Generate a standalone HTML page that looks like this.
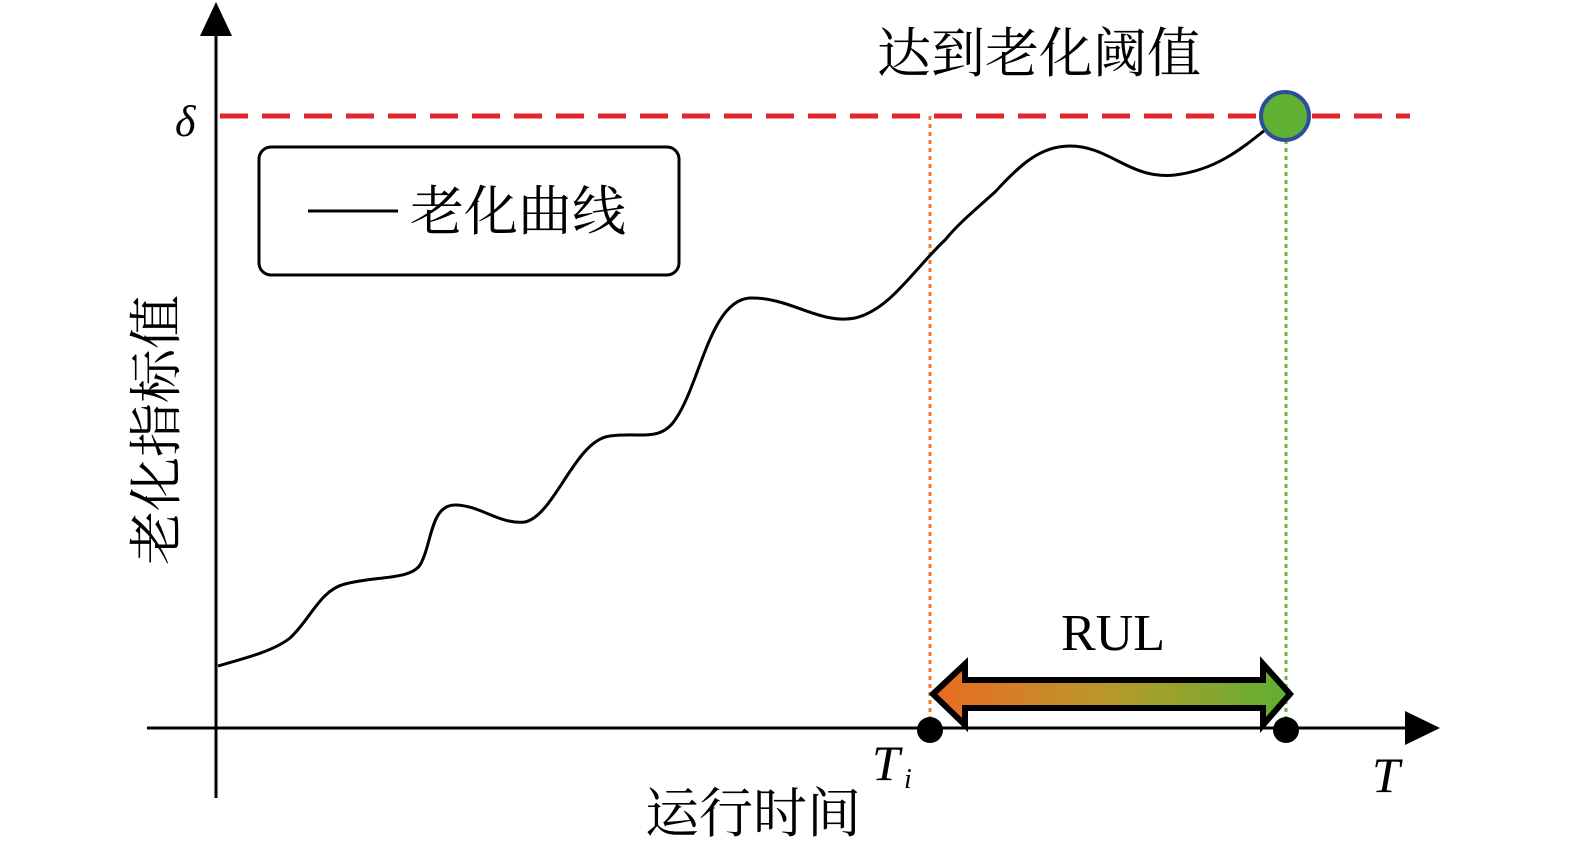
<!DOCTYPE html>
<html><head><meta charset="utf-8"><style>
html,body{margin:0;padding:0;background:#fff;}
svg{display:block;}
text{font-family:"Liberation Serif","Noto Serif CJK SC",serif;}
.cjk{font-family:"Liberation Serif","Noto Serif CJK SC",serif;}
</style></head><body>
<svg width="1575" height="846" viewBox="0 0 1575 846" xmlns="http://www.w3.org/2000/svg">
<defs>
<linearGradient id="g" x1="0" x2="1" y1="0" y2="0">
<stop offset="0" stop-color="#ec6a23"/>
<stop offset="0.5" stop-color="#b79a2a"/>
<stop offset="1" stop-color="#5fb033"/>
</linearGradient>
</defs>
<line x1="216" y1="30" x2="216" y2="798" stroke="#000" stroke-width="3"/>
<polygon points="216,2 200,36 232,36" fill="#000"/>
<line x1="147" y1="728" x2="1410" y2="728" stroke="#000" stroke-width="3"/>
<polygon points="1440,728 1405,711 1405,745" fill="#000"/>
<line x1="220" y1="116" x2="1410" y2="116" stroke="#e2252b" stroke-width="5" stroke-dasharray="28,14"/>
<text x="175" y="136" font-size="44" font-style="italic">δ</text>
<line x1="930" y1="116" x2="930" y2="728" stroke="#ec7b30" stroke-width="3" stroke-dasharray="4,4"/>
<line x1="1286" y1="116" x2="1286" y2="728" stroke="#6ab23e" stroke-width="3" stroke-dasharray="4,4"/>
<path d="M218,666 C250,657 275,650 290,638 C310,620 320,590 345,584 C375,576 410,580 420,565 C432,545 430,505 455,505 C480,505 500,525 525,522 C555,515 575,440 610,436 C640,432 660,442 675,420 C700,385 710,300 750,298 C790,297 820,325 855,318 C890,310 915,268 945,240 C960,222 975,210 995,192 C1020,165 1040,146 1070,146 C1110,146 1130,180 1175,175 C1215,170 1240,150 1265,130" fill="none" stroke="#000" stroke-width="3"/>
<circle cx="1285" cy="116" r="24" fill="#5fb033" stroke="#2d4e9a" stroke-width="4"/>
<circle cx="930" cy="730" r="13" fill="#000"/>
<circle cx="1286" cy="730" r="13" fill="#000"/>
<polygon points="933,694 965,664 965,680 1263,680 1263,664 1290,694 1263,725 1263,708 965,708 965,725" fill="url(#g)" stroke="#000" stroke-width="6" stroke-linejoin="miter"/>
<text x="1113" y="650" font-size="52" text-anchor="middle">RUL</text>
<rect x="259" y="147" width="420" height="128" rx="12" fill="#fff" stroke="#000" stroke-width="3"/>
<line x1="308" y1="211" x2="398" y2="211" stroke="#000" stroke-width="3"/>
<text class="cjk" x="410" y="230" font-size="54">老化曲线</text>
<text class="cjk" x="877" y="72" font-size="54">达到老化阈值</text>
<text class="cjk" x="645" y="832" font-size="54">运行时间</text>
<text class="cjk" transform="translate(175,565) rotate(-90)" font-size="54">老化指标值</text>
<text x="872" y="780" font-size="50" font-style="italic">T</text>
<text x="904" y="788" font-size="28" font-style="italic">i</text>
<text x="1372" y="792" font-size="50" font-style="italic">T</text>
</svg>
</body></html>
